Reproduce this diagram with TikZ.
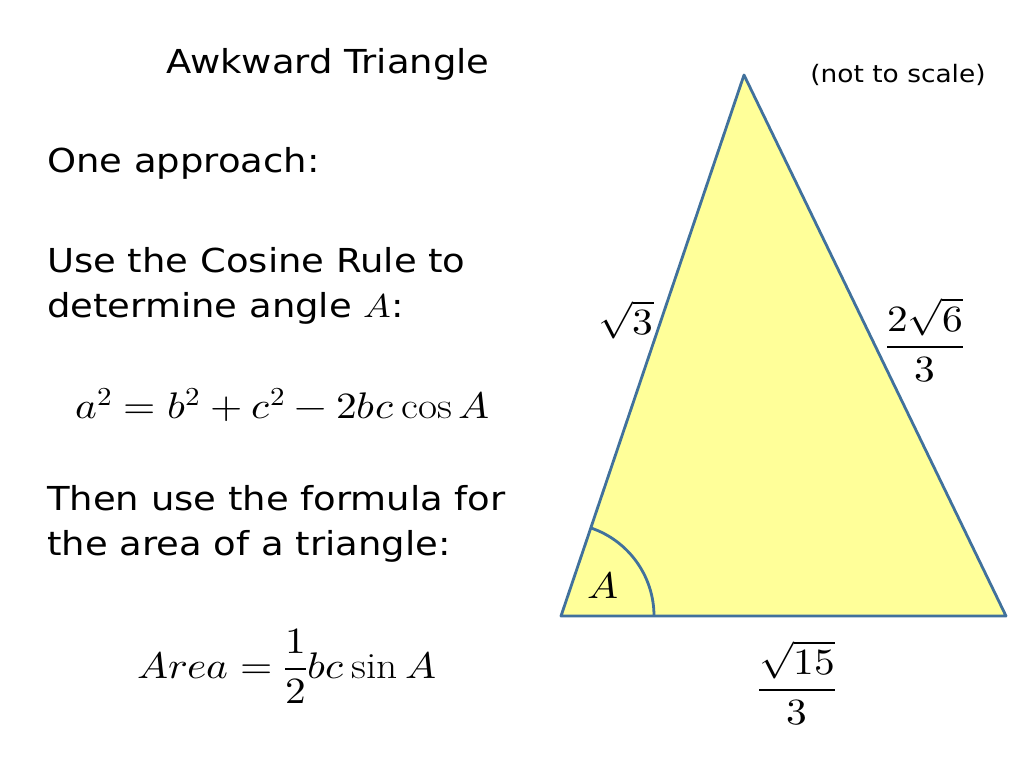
\documentclass[tikz,border=0pt]{standalone}
\usepackage{amsmath}
\usepackage{fontspec}
\usepackage{unicode-math}
\setmainfont{DejaVu Sans}
\setmathfont{Latin Modern Math}
\setmathrm{Latin Modern Roman}
\usepackage{tikz}
\usetikzlibrary{positioning}

\definecolor{triyellow}{RGB}{255,255,153}
\definecolor{triblue}{RGB}{65,113,156}

\begin{document}
\begin{tikzpicture}[x=1pt, y=-1pt]
    % Styles
    \tikzstyle{words} = [anchor=west, inner sep=0pt, xscale=1.12, font=\fontsize{33}{38}\selectfont]
    \tikzstyle{maths} = [inner sep=0pt, xscale=1.12, font=\fontsize{37}{44}\selectfont]
    \tikzstyle{tri} = [draw=triblue, line width=2.8pt, fill=triyellow, line join=round]
    \tikzstyle{edge} = [draw=triblue, line width=2.8pt]

    \useasboundingbox (0,0) rectangle (1024,768);

    % Text
    \node (title) [words, anchor=center] at (328,64) {Awkward Triangle};
    \node (note) [inner sep=0pt, xscale=1.1, font=\fontsize{24}{28}\selectfont] at (898,75) {(not to scale)};
    \node (approach) [words] at (47,163) {One approach:};
    \node (cosine1) [words] at (47,260) {Use the Cosine Rule to};
    \node (cosine2) [words] at (47,308) {determine angle $A$:};
    \node (cosrule) [maths, anchor=west] at (75,405) {$a^2=b^2+c^2-2bc\cos A$};
    \node (then1) [words] at (47,498) {Then use the formula for};
    \node (then2) [words] at (47,546) {the area of a triangle:};
    \node (areaformula) [maths, anchor=west] at (137,666) {$Area=\dfrac{1}{2}bc\sin A$};

    % Triangle
    \coordinate (B) at (561,616);
    \coordinate (C) at (1006,616);
    \coordinate (T) at (744,75);
    \draw [tri] (B) -- (C) -- (T) -- cycle;
    \draw [edge] (B) ++(93,0) arc[start angle=0, end angle=-71.3, radius=93];

    % Labels
    \node (angleA) [maths] at (603,585) {$A$};
    \node (sideb) [maths] at (626,320) {$\sqrt{3}$};
    \node (sidea) [maths] at (925,340) {$\dfrac{2\sqrt{6}}{3}$};
    \node (sidec) [maths] at (797,683) {$\dfrac{\sqrt{15}}{3}$};
\end{tikzpicture}
\end{document}
